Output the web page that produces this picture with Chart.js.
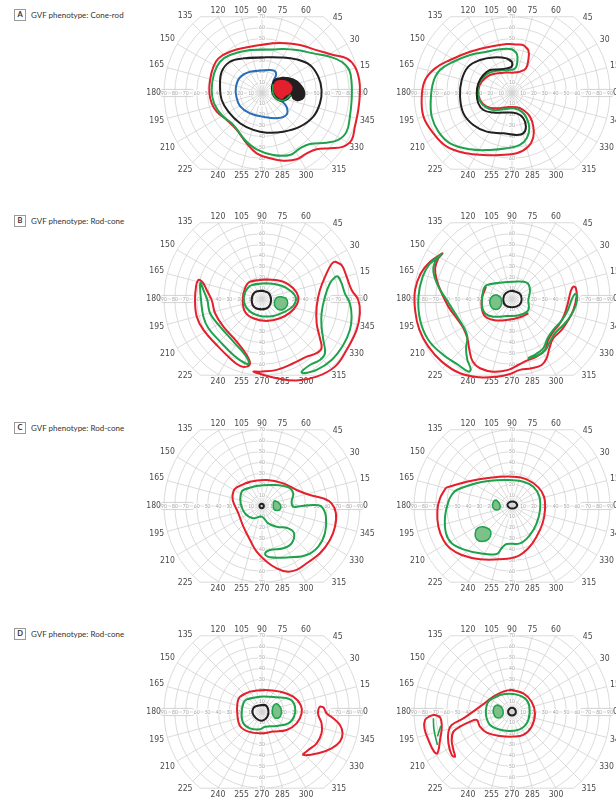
<!DOCTYPE html>
<html><head><meta charset="utf-8">
<script src="https://cdn.jsdelivr.net/npm/chart.js@4.4.1/dist/chart.umd.min.js"></script>
<style>
html,body{margin:0;padding:0;background:#fff;}
body{width:616px;height:802px;position:relative;overflow:hidden;font-family:Lato,"Open Sans",sans-serif;}
.rowlab{position:absolute;left:14px;height:12px;display:flex;align-items:center;font-size:8px;color:#333;white-space:nowrap;}
.rowlab .box{width:10px;height:10px;border:1px solid #999;font-weight:bold;font-size:7.5px;display:flex;align-items:center;justify-content:center;margin-right:5px;box-sizing:content-box;}
</style></head><body>
<script>
// ---------- tick labels / categories ----------
const ANGLE_TICKS = [0,15,30,45,60,75,90,105,120,135,150,165,180,195,210,225,240,255,270,285,300,315,330,345];
const RING_VALUES = [10,20,30,40,50,60,70,80,90];
const VERT_TICKS = [10,20,30,40,50,60,70];
const OUTER_LIMIT = 90;   // horizontal extent of field (deg)
const VERT_LIMIT = 70;    // vertical extent of field (deg)
const ROW_LETTERS = ['A','B','C','D'];
const ROW_TITLES = ['GVF phenotype: Cone-rod','GVF phenotype: Rod-cone','GVF phenotype: Rod-cone','GVF phenotype: Rod-cone'];

// ---------- isopter data: [x, y] in degrees of eccentricity ----------
// Row A, left eye
const A1_red = [[10.4,45.6],[-11,42.5],[-29.4,37.9],[-40,31.8],[-44.6,24.2],[-47.7,11.9],[-48.3,0],[-46.2,-9.5],[-41.6,-17.1],[-32.4,-24.8],[-23.2,-33.9],[-14.1,-46.2],[-4.9,-55.4],[7.3,-59.9],[19.6,-62.1],[31.8,-60.9],[41,-55.4],[50.2,-51.7],[62.4,-50.8],[74.6,-49.2],[82.3,-43.1],[85.3,-30.9],[88.4,-15.6],[89.9,-0.3],[89.3,11.9],[85.3,24.2],[77.7,31.8],[65.4,34.9],[50.2,39.4],[34.9,44],[22.6,45.6]];
const A1_green = [[10.4,40],[-11,39.4],[-29.4,34.9],[-38.5,28.7],[-44,18],[-46.2,2.8],[-44,-9.5],[-37,-20.2],[-26.3,-29.4],[-15.6,-43.1],[-4.9,-51.7],[10.4,-56.9],[25.7,-56.9],[34.9,-50.8],[44,-46.8],[59.3,-45.6],[70,-43.1],[77.7,-35.5],[80.7,-21.7],[82.3,-6.4],[82.3,8.9],[80.1,21.1],[73.1,28.7],[62.4,33.3],[47.1,36.4],[31.8,39.4],[19.6,40.4]];
const A1_black = [[1.2,32.7],[-17.1,31.8],[-29.4,28.7],[-37,19.6],[-38.5,5.8],[-37,-6.4],[-30.9,-17.1],[-20.2,-27.8],[-8,-33.9],[4.3,-36.4],[19.6,-35.5],[34.9,-30.9],[47.1,-21.7],[53.2,-9.5],[54.7,2.8],[51.7,15],[44,25.7],[31.8,30.9],[16.5,32.7]];
const A1_blue = [[4,21],[-11,19.5],[-20.5,14],[-24,5],[-23.5,-3.5],[-20.2,-12],[-11,-18.7],[2,-22],[15,-23],[22.5,-20],[22.5,-12.5],[17,-6.5],[12,-1.5],[9.5,4],[10.5,11],[13,17],[11,20.5]];
const A1_scotomaBlack = [[11.9,12.4],[19.6,14.2],[28.7,12.6],[35.2,7.8],[39,1.2],[38.2,-4.5],[33.3,-7],[28.7,-5.2],[27.2,-2],[24.2,-5.2],[19.6,-7.3],[15,-6.6],[11,-3.6],[8.9,2.8],[9.8,9]];
const A1_scotomaRed = [[12.8,10.5],[20.5,11.3],[25.8,8.6],[27.6,4.3],[25.8,0.2],[21.8,-2.4],[18.6,-5],[15,-4],[12,-0.3],[11.1,5.6]];
const A1_scotomaGreen = [[10.2,8],[10,0],[12.5,-4.5],[16,-6.6],[20,-6.8],[23.5,-4.5],[26.5,-1.5]];
// Row A, right eye
const A2_red = [[10.4,44],[15,39.4],[15,30.3],[12.8,22.6],[7.3,19.6],[1.2,18.7],[-8,18.7],[-20.2,16.5],[-27.8,10.4],[-30.9,2.8],[-29.4,-6.4],[-23.2,-12.5],[-14.1,-14.1],[-4.9,-13.1],[4.3,-13.1],[10.4,-15.6],[16.5,-21.7],[19.6,-30.9],[19.6,-40.1],[15,-49.2],[4.3,-55.4],[-11,-56.9],[-26.3,-56.9],[-41.6,-55.4],[-59.9,-49.2],[-72.2,-37],[-81.3,-21.7],[-82.9,-3.4],[-79.8,11.9],[-70.6,22.6],[-56.9,30.3],[-38.5,37.9],[-20.2,42.5],[-4.9,45],[4.3,44.6]];
const A2_green = [[-0.3,40.1],[4.3,36.4],[4.9,28.7],[2.8,22.6],[-3.4,21.1],[-14.1,20.5],[-23.2,17.4],[-29.4,10.4],[-31.5,2.8],[-30,-6.4],[-24.8,-12.5],[-17.1,-15.6],[-8,-15],[1.2,-14.1],[8.9,-17.1],[13.5,-23.2],[15.9,-32.4],[13.5,-41.6],[7.3,-47.7],[-4.9,-50.8],[-20.2,-52.3],[-38.5,-51.7],[-56.9,-46.2],[-67.6,-35.5],[-73.7,-21.7],[-74.6,-6.4],[-72.2,10.4],[-66.1,21.1],[-53.8,28.7],[-38.5,34.9],[-23.2,37.9],[-11,40.1]];
const A2_black = [[-4.9,31.8],[-0.3,28.7],[-0.3,24.2],[-4.9,22.6],[-11,21.7],[-20.2,21.1],[-26.3,16.5],[-30.9,8.9],[-32.4,-0.3],[-30.9,-9.5],[-26.3,-15.6],[-17.1,-18],[-6.4,-18],[4.3,-18.7],[10.4,-23.2],[12.8,-30.9],[10.4,-37],[4.3,-38.5],[-8,-37],[-23.2,-35.5],[-35.5,-29.4],[-44.6,-18.7],[-47.7,-3.4],[-46.2,11.9],[-40.1,24.2],[-29.4,30.3],[-17.1,32.7]];
// Row B, left eye
const B1_redCentral = [[-11,15.9],[4.3,18],[19.6,15.9],[28.7,9.8],[33.3,2.1],[31.8,-5.5],[25.7,-12.5],[16.5,-17.7],[4.3,-20.2],[-8,-17.7],[-15.6,-11.6],[-17.7,-0.9],[-15.6,9.8]];
const B1_greenCentral = [[-9.5,12.8],[4.3,14.4],[18,12.2],[27.2,6.7],[31.2,0.6],[28.7,-6.4],[21.1,-11.6],[10.4,-15.6],[-1.8,-15.6],[-11,-11.6],[-16.2,-4],[-15.6,5.8]];
const B1_black = [[-0.3,7.6],[5.8,5.8],[8.3,-0.9],[5.8,-7.6],[-0.3,-9.5],[-7,-7.6],[-9.5,-0.9],[-7,5.8]];
const B1_greenSpot = [[17.4,2.1],[22,0.6],[23.6,-4],[21.1,-8.6],[16.5,-10.1],[12.5,-7.6],[11.3,-3.1],[13.5,1.2]];
const B1_redTemporal = [[-56.9,17.4],[-53.8,14.4],[-50.8,8.3],[-46.2,-0.9],[-43.1,-13.1],[-35.5,-25.4],[-23.2,-39.1],[-14.1,-51.4],[-11,-59],[-14.1,-62.1],[-20.2,-61.5],[-29.4,-54.4],[-41.6,-42.2],[-53.8,-28.4],[-59.9,-16.2],[-61.5,-0.9],[-60.6,11.3],[-59,16.8]];
const B1_greenTemporal = [[-56.3,15],[-53.8,8.3],[-50.2,-0.9],[-47.7,-13.1],[-38.5,-25.4],[-26.3,-39.1],[-15.6,-51.4],[-11.9,-59],[-15.6,-59],[-26.3,-51.4],[-38.5,-39.1],[-49.2,-26.9],[-53.8,-16.2],[-56,-0.9],[-56.9,11.3]];
const B1_redNasal = [[67,34.3],[73.1,31.2],[77.7,20.5],[82.3,8.3],[88.4,-0.9],[89.9,-13.1],[86.9,-28.4],[77.7,-46.8],[67,-62.1],[50.2,-71.3],[31.8,-74.9],[13.5,-72.8],[-1.8,-68.8],[-8,-66.7],[-1.8,-66.7],[13.5,-65.1],[28.7,-59],[41,-52.9],[50.2,-49.8],[54.7,-45.3],[53.2,-36.1],[50.2,-22.3],[50.2,-7],[53.2,8.3],[59.3,23.5],[63.9,32.1]];
const B1_greenNasal = [[70,20.5],[73.1,14.4],[76.1,5.2],[80.7,-4],[82.3,-16.2],[80.7,-28.4],[74.6,-42.2],[63.9,-56],[50.2,-65.1],[37.9,-68.2],[36.4,-66.7],[44,-60.6],[53.2,-56],[57.8,-49.8],[56.3,-37.6],[54.7,-25.4],[54.7,-13.1],[57.8,2.1],[62.4,14.4],[67,19.9]];
// Row B, right eye
const B2_redPeripheral = [[-63.9,41.9],[-75.2,34.3],[-83.8,23.5],[-89,8.3],[-89,-10.1],[-85,-28.4],[-76.8,-43.7],[-64.5,-57.5],[-47.7,-68.2],[-29.4,-71.9],[-14.1,-71.3],[-1.8,-68.8],[7.3,-65.1],[18,-63.6],[27.2,-60.6],[31.8,-54.4],[34.3,-45.3],[37.9,-36.1],[45.6,-28.4],[51.7,-19.3],[56.3,-10.1],[59.3,2.1],[58.7,9.8],[56.3,11.3],[53.8,6.7],[51.7,-2.4],[48.6,-13.1],[44,-22.3],[37.9,-30],[33.3,-37.6],[30.3,-46.8],[22.6,-52.9],[13.5,-56.6],[5.8,-60.6],[-3.4,-65.1],[-17.1,-66.7],[-29.4,-63.6],[-36.1,-57.5],[-39.1,-46.8],[-41,-36.1],[-44.6,-26.9],[-50.8,-17.7],[-58.4,-7],[-64.5,5.2],[-69.1,17.4],[-70.6,28.1],[-67.6,37.3]];
const B2_greenTemporal = [[-64.5,41.3],[-75.2,32.7],[-82,20.5],[-85.9,2.1],[-84.4,-19.3],[-76.8,-37.6],[-63,-51.4],[-49.2,-60.6],[-40.1,-66.7],[-37.9,-64.5],[-41,-56],[-42.2,-45.3],[-41,-34.6],[-44.6,-25.4],[-52.3,-13.1],[-59.9,-0.9],[-67.6,11.3],[-72.2,25.1],[-70.6,34.3]];
const B2_greenNasal = [[15,-54.4],[22.6,-52.3],[30.3,-47.4],[34.9,-39.1],[39.4,-31.5],[47.1,-23.9],[53.8,-15.6],[58.7,-5.5],[59.9,3.7],[57.8,4.6],[54.7,-0.9],[51.1,-10.7],[45.6,-19.9],[37.9,-28.4],[32.7,-36.1],[28.7,-45.3],[22,-50.5]];
const B2_greenCentral = [[-23.2,12.8],[-11,15],[1.2,15.9],[13.5,15],[16.5,8.3],[15,-0.9],[15,-10.1],[7.3,-14.7],[-4.9,-15.6],[-17.1,-16.2],[-24.8,-13.1],[-27.8,-4],[-26.3,8.3]];
const B2_redCentral = [[-23.9,11.3],[-27.8,-0.9],[-25.7,-14.7],[-17.1,-19.3],[-4.9,-19.3],[7.3,-16.8],[15,-13.1]];
const B2_black = [[0.3,7.6],[6.7,5.2],[8.9,0],[6.7,-5.5],[0.3,-7.6],[-6.1,-5.8],[-8,0],[-5.8,5.2]];
const B2_greenSpot = [[-14.1,3.7],[-10.4,1.5],[-9.5,-4],[-11.9,-8.6],[-16.2,-9.5],[-19.6,-6.4],[-20.2,-0.9],[-17.7,2.8]];
// Row C, left eye
const C1_red = [[-23.2,17.1],[-11,22.3],[4.3,23.9],[19.6,20.8],[31.8,14.7],[44,10.1],[56.3,7],[63.9,2.4],[67.9,-6.7],[67,-19],[62.4,-31.2],[53.2,-43.4],[41,-52.6],[31.8,-58.7],[22.6,-60.2],[13.5,-57.2],[4.3,-51.1],[-4.9,-41.9],[-11,-31.2],[-17.1,-19],[-21.7,-6.7],[-26.9,5.5],[-26.3,13.1]];
const C1_green = [[-17.1,14.7],[-4.9,18.3],[10.4,19.3],[24.2,17.1],[28.7,11.6],[27.2,4],[28.7,-0.6],[36.4,0],[47.1,0.9],[54.7,-0.6],[58.7,-9.8],[57.8,-25.1],[51.7,-37.3],[41,-45],[25.7,-47.1],[7.3,-47.1],[2.8,-44],[7.3,-40.4],[19.6,-38.8],[27.2,-34.3],[29.4,-25.1],[24.2,-20.5],[13.5,-19],[5.8,-15.9],[-0.3,-9.8],[-8,-11.3],[-15.6,-6.7],[-19.6,2.4],[-19.6,10.1]];
const C1_black = [[1.7,0],[1.2,1.4],[-0.3,2],[-1.8,1.4],[-2.3,0],[-1.8,-1.4],[-0.3,-2],[1.2,-1.4]];
const C1_greenSpot = [[11.3,4.7],[14.8,3.5],[17.3,0],[16.5,-3.3],[13.8,-4.2],[11,-3],[10.3,0.5]];
// Row C, right eye
const C2_red = [[-59.9,17.1],[-41.6,22.3],[-20.2,26],[1.2,26.9],[13.5,24.5],[24.2,17.1],[29.4,8.6],[30.3,-3.7],[28.1,-15.9],[22.6,-28.1],[15,-38.8],[4.3,-46.5],[-11,-48.9],[-29.4,-48.9],[-46.2,-45],[-56.9,-38.8],[-63,-31.2],[-67.6,-19],[-68.5,-3.7],[-66.1,7],[-61.5,15.3]];
const C2_green = [[-50.8,14.7],[-35.5,20.2],[-20.2,23.2],[-4.9,23.9],[10.4,22.3],[19.6,17.7],[25.1,8.6],[25.7,-3.7],[22.6,-15.9],[16.5,-26.6],[7.3,-34.3],[-4.9,-34.9],[-9.5,-38.8],[-14.1,-44],[-29.4,-43.4],[-44.6,-39.8],[-55.4,-34.3],[-60.6,-25.1],[-61.5,-9.8],[-58.4,4],[-55.4,10.1]];
const C2_black = [[4.8,0.9],[3.4,3.2],[0.3,4.2],[-2.8,3.2],[-4.2,0.9],[-2.8,-1.4],[0.3,-2.4],[3.4,-1.4]];
const C2_greenSpotSmall = [[-14.7,5.5],[-11.6,2.4],[-11,-2.1],[-14.1,-3.7],[-17.1,-2.1],[-17.7,2.4]];
const C2_greenSpotLarge = [[-26.3,-19],[-20.8,-21.4],[-19.3,-25.7],[-21.7,-30.6],[-27.8,-32.7],[-32.4,-30.6],[-33.9,-25.7],[-31.8,-20.5]];
// Row D, left eye
const D1_red = [[-20.2,14.1],[-11,18.7],[2.8,20.2],[16.5,18.7],[28.7,14.1],[35.5,6.4],[36.4,-1.2],[31.8,-10.4],[22.6,-16.5],[10.4,-18],[-1.8,-19.6],[-12.5,-18],[-20.2,-12.8],[-22.6,-2.8],[-22.6,8]];
const D1_green = [[-14.1,11.6],[-1.8,14.1],[13.5,13.5],[25.7,11.6],[30.3,4.9],[29.4,-4.3],[24.2,-10.4],[13.5,-12.8],[2.8,-13.5],[-1.8,-15.9],[-11,-15],[-17.1,-10.4],[-18.7,-1.2],[-17.1,8]];
const D1_black = [[-4.9,5.5],[2.8,6.4],[5.8,1.8],[4.9,-4.3],[-0.3,-8],[-5.5,-5.8],[-8.6,-1.2],[-8,3.4]];
const D1_greenSpot = [[14.1,7.3],[17.4,3.4],[17.4,-2.8],[14.1,-5.8],[10.4,-3.7],[9.5,1.8],[11,6.4]];
const D1_redNasal = [[53.2,4.9],[56.3,4.3],[59.3,-1.2],[65.4,-5.8],[71.6,-11.9],[74,-19.6],[71.6,-27.2],[63.9,-33.3],[51.7,-37.9],[37.9,-39.4],[42.5,-34.9],[50.2,-28.7],[54.7,-19.6],[54.7,-10.4],[51.7,-2.8],[51.7,1.8]];
// Row D, right eye
const D2_redMain = [[-0.3,20.2],[10.4,17.1],[18,9.5],[21.1,-1.2],[18,-13.5],[10.4,-21.1],[1.2,-22.6],[-11,-22],[-23.2,-19],[-29.4,-13.5],[-32.4,-7.3],[-38.5,-8.9],[-47.7,-13.5],[-53.8,-18],[-55.4,-25.7],[-53.8,-34.9],[-52.3,-41],[-55.4,-39.4],[-58.4,-28.7],[-58.4,-18],[-55.4,-11.9],[-44.6,-5.8],[-29.4,4.9],[-17.1,14.1],[-8,18.7]];
const D2_redIsland = [[-70.6,-2.8],[-66.1,-4.9],[-64.5,-13.5],[-66.1,-25.7],[-68.5,-37.9],[-71.6,-36.4],[-76.8,-25.7],[-80.4,-15],[-79.8,-7.3],[-75.2,-3.7]];
const D2_greenIslandA = [[-72.2,-5.8],[-71.6,-16.5],[-68.5,-30.3]];
const D2_greenIslandB = [[-65.4,-12.8],[-68.5,-22.6]];
const D2_green = [[-20.2,11],[-11,15.6],[1.2,16.5],[11.9,12.5],[15.9,4.9],[15,-7.3],[8.9,-15],[-1.8,-17.4],[-12.5,-15.9],[-20.2,-11.9],[-23.9,-2.8],[-23.2,6.4]];
const D2_black = [[3.6,0.3],[2.5,2.8],[0,3.8],[-2.5,2.8],[-3.6,0.3],[-2.5,-2.3],[0,-3.3],[2.5,-2.3]];
const D2_greenSpot = [[-13.5,6.4],[-9.5,4.3],[-8,-1.2],[-10.4,-4.9],[-14.7,-4.9],[-17.1,-0.6],[-16.5,4.3]];

// ---------- styles ----------
const RED = '#e4202c', GREEN = '#1ea24c', BLACK = '#231f20', BLUE = '#2a6cb6', GREEN_FILL = '#7cc08a';
const PX_PER_DEG = 1.089;
const CW = 260, CH = 200;

function iso(pts, color, opts = {}) {
  const closed = opts.closed !== false;
  let d = pts.map(([x, y]) => ({x, y}));
  if (closed) d = d.concat([d[0], d[1]]);
  return {
    data: d, showLine: true, borderColor: color, borderWidth: opts.width || 2,
    pointRadius: 0, tension: 0.4,
    fill: opts.fillColor ? 'shape' : false,
    backgroundColor: opts.fillColor || 'rgba(0,0,0,0)'
  };
}

const plots = [
  {cx: 262, cy: 93, sets: [
    iso(A1_red, RED), iso(A1_green, GREEN), iso(A1_black, BLACK), iso(A1_blue, BLUE),
    iso(A1_scotomaBlack, BLACK, {fillColor: BLACK, width: 1.5}),
    iso(A1_scotomaRed, RED, {fillColor: RED, width: 1}),
    iso(A1_scotomaGreen, GREEN, {closed: false, width: 1.8})]},
  {cx: 512, cy: 93, sets: [iso(A2_red, RED), iso(A2_green, GREEN), iso(A2_black, BLACK)]},
  {cx: 262, cy: 299, sets: [
    iso(B1_redTemporal, RED), iso(B1_greenTemporal, GREEN), iso(B1_redNasal, RED), iso(B1_greenNasal, GREEN),
    iso(B1_redCentral, RED), iso(B1_greenCentral, GREEN), iso(B1_black, BLACK),
    iso(B1_greenSpot, GREEN, {fillColor: GREEN_FILL, width: 1.5})]},
  {cx: 512, cy: 299, sets: [
    iso(B2_redPeripheral, RED), iso(B2_greenTemporal, GREEN), iso(B2_greenNasal, GREEN),
    iso(B2_redCentral, RED, {closed: false}), iso(B2_greenCentral, GREEN), iso(B2_black, BLACK),
    iso(B2_greenSpot, GREEN, {fillColor: GREEN_FILL, width: 1.5})]},
  {cx: 262, cy: 506, sets: [
    iso(C1_red, RED), iso(C1_green, GREEN), iso(C1_black, BLACK),
    iso(C1_greenSpot, GREEN, {fillColor: GREEN_FILL, width: 1.5})]},
  {cx: 512, cy: 506, sets: [
    iso(C2_red, RED), iso(C2_green, GREEN), iso(C2_black, BLACK),
    iso(C2_greenSpotSmall, GREEN, {fillColor: GREEN_FILL, width: 1.5}),
    iso(C2_greenSpotLarge, GREEN, {fillColor: GREEN_FILL, width: 1.5})]},
  {cx: 262, cy: 712, sets: [
    iso(D1_red, RED), iso(D1_green, GREEN), iso(D1_black, BLACK),
    iso(D1_greenSpot, GREEN, {fillColor: GREEN_FILL, width: 1.5}), iso(D1_redNasal, RED)]},
  {cx: 512, cy: 712, sets: [
    iso(D2_redMain, RED), iso(D2_redIsland, RED),
    iso(D2_greenIslandA, GREEN, {closed: false, width: 1.6}), iso(D2_greenIslandB, GREEN, {closed: false, width: 1.6}),
    iso(D2_green, GREEN), iso(D2_black, BLACK),
    iso(D2_greenSpot, GREEN, {fillColor: GREEN_FILL, width: 1.5})]}
];

const rad = d => d * Math.PI / 180;

const gvfGrid = {
  id: 'gvfGrid',
  beforeDatasetsDraw(chart) {
    const {ctx} = chart;
    const sx = chart.scales.x, sy = chart.scales.y;
    const px = v => sx.getPixelForValue(v), py = v => sy.getPixelForValue(v);
    const cx = px(0), cy = py(0);
    const k = px(1) - cx;
    ctx.save();
    ctx.strokeStyle = '#d2d2d2';
    ctx.lineWidth = 0.8;
    ctx.save();
    ctx.beginPath();
    ctx.rect(px(-OUTER_LIMIT - 2), py(VERT_LIMIT), px(OUTER_LIMIT + 2) - px(-OUTER_LIMIT - 2), py(-VERT_LIMIT) - py(VERT_LIMIT));
    ctx.clip();
    for (const r of RING_VALUES) {
      ctx.beginPath();
      ctx.arc(cx, cy, r * k, 0, Math.PI * 2);
      ctx.stroke();
    }
    ctx.restore();
    const hx = Math.sqrt(OUTER_LIMIT * OUTER_LIMIT - VERT_LIMIT * VERT_LIMIT);
    ctx.beginPath();
    ctx.moveTo(px(-hx), py(VERT_LIMIT)); ctx.lineTo(px(hx), py(VERT_LIMIT));
    ctx.moveTo(px(-hx), py(-VERT_LIMIT)); ctx.lineTo(px(hx), py(-VERT_LIMIT));
    ctx.stroke();
    for (const a of ANGLE_TICKS) {
      const t = rad(a), s = Math.abs(Math.sin(t));
      const re = Math.min(OUTER_LIMIT, s > 1e-6 ? VERT_LIMIT / s : OUTER_LIMIT);
      ctx.beginPath();
      ctx.moveTo(cx, cy);
      ctx.lineTo(px(re * Math.cos(t)), py(re * Math.sin(t)));
      ctx.stroke();
    }
    ctx.strokeStyle = '#c8c8c8';
    for (const sgn of [-1, 1]) {
      const x0 = px(sgn < 0 ? -93.5 : 62), x1 = px(sgn < 0 ? -62 : 93.5);
      const y0 = py(3.3), y1 = py(-3.3);
      ctx.beginPath();
      if (ctx.roundRect) ctx.roundRect(x0, y0, x1 - x0, y1 - y0, 3); else ctx.rect(x0, y0, x1 - x0, y1 - y0);
      ctx.stroke();
    }
    ctx.font = '5px Lato, sans-serif';
    ctx.textAlign = 'center';
    ctx.textBaseline = 'middle';
    const tick = (txt, X, Y) => {
      const w = ctx.measureText(txt).width;
      ctx.fillStyle = '#fff';
      ctx.fillRect(X - w / 2 - 0.8, Y - 2.6, w + 1.6, 5.2);
      ctx.fillStyle = '#a3a3a3';
      ctx.fillText(txt, X, Y);
    };
    for (const r of RING_VALUES) { tick(String(r), px(-r), cy); tick(String(r), px(r), cy); }
    for (const r of VERT_TICKS) { tick(String(r), cx, py(r)); tick(String(r), cx, py(-r)); }
    ctx.font = '8.6px "Liberation Sans Narrow", "DejaVu Sans Condensed", Lato, sans-serif';
    ctx.fillStyle = '#4a4a4a';
    for (const a of ANGLE_TICKS) {
      const t = rad(a), c = Math.cos(t), s = Math.sin(t);
      const txt = String(a);
      if (Math.abs(s) > 1e-6 && VERT_LIMIT / Math.abs(s) < OUTER_LIMIT) {
        const xx = px(VERT_LIMIT * c / Math.abs(s));
        const yy = s > 0 ? py(VERT_LIMIT) - 6.3 : py(-VERT_LIMIT) + 7;
        ctx.fillText(txt, xx, yy);
      } else {
        const w = ctx.measureText(txt).width, h = 7;
        const bx = px(OUTER_LIMIT * c), by = py(OUTER_LIMIT * s);
        const off = 3 + (w / 2) * Math.abs(c) + (h / 2) * Math.abs(s);
        ctx.fillText(txt, bx + off * c, by - off * s);
      }
    }
    ctx.restore();
  }
};

const XH = (CW / 2) / PX_PER_DEG, YH = (CH / 2) / PX_PER_DEG;

for (const p of plots) {
  const cv = document.createElement('canvas');
  cv.width = CW; cv.height = CH;
  cv.style.cssText = 'position:absolute;left:' + (p.cx - CW / 2) + 'px;top:' + (p.cy - CH / 2) + 'px;width:' + CW + 'px;height:' + CH + 'px;';
  document.body.appendChild(cv);
  p.sets.forEach((d, i) => { d.order = -i; });
  new Chart(cv, {
    type: 'scatter',
    data: {datasets: p.sets},
    options: {
      responsive: false, animation: false, events: [], devicePixelRatio: 1,
      layout: {padding: 0},
      plugins: {legend: {display: false}, tooltip: {enabled: false}},
      scales: {
        x: {type: 'linear', min: -XH, max: XH, display: false},
        y: {type: 'linear', min: -YH, max: YH, display: false}
      }
    },
    plugins: [gvfGrid]
  });
}

const ROW_CY = [93, 299, 506, 712];
ROW_LETTERS.forEach((L, i) => {
  const el = document.createElement('div');
  el.className = 'rowlab';
  el.style.top = (ROW_CY[i] - 84.5) + 'px';
  el.innerHTML = '<span class="box">' + L + '</span><span>' + ROW_TITLES[i] + '</span>';
  document.body.appendChild(el);
});
</script>
</body></html>
